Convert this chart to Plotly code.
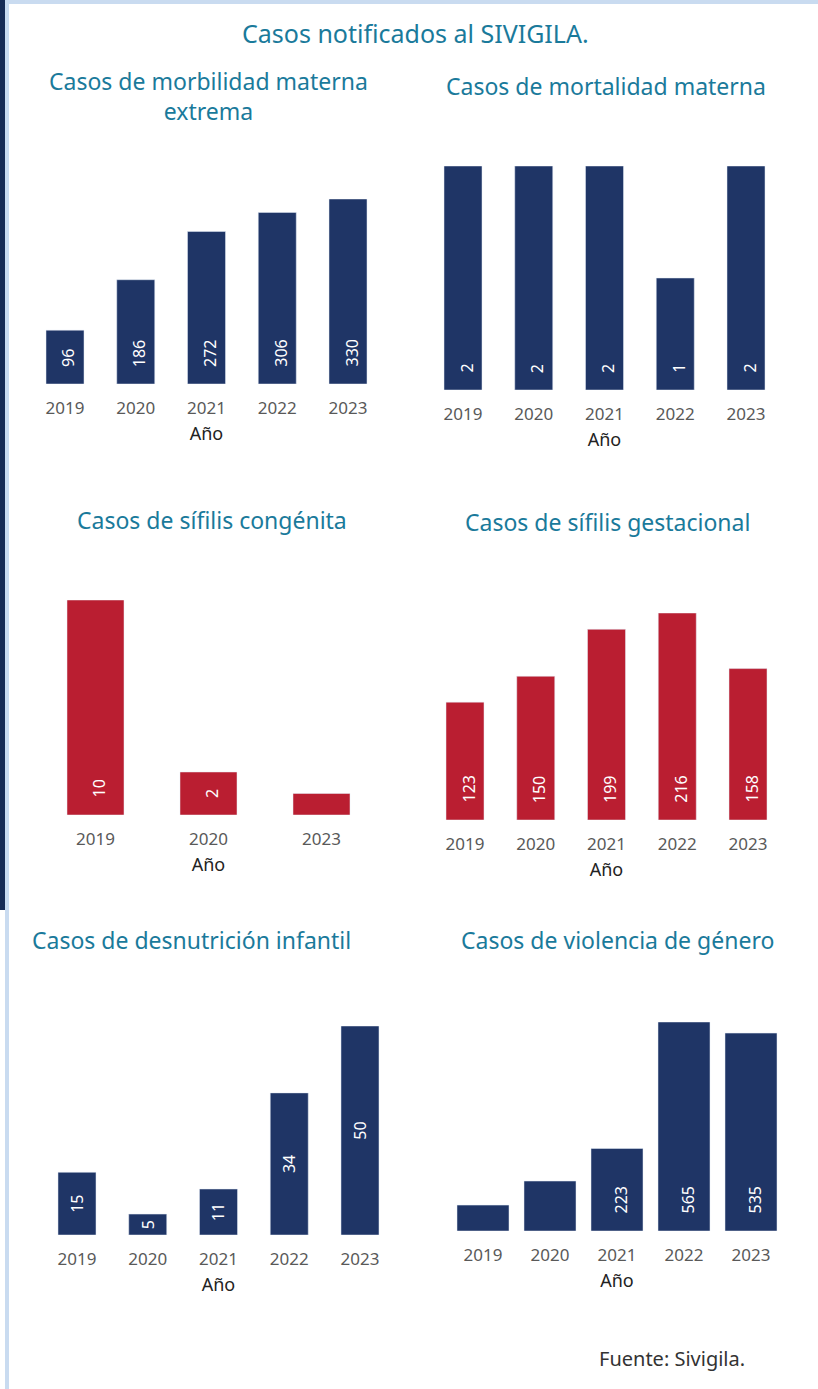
import plotly.graph_objects as go

W, H = 818, 1389

# ---- data ----
years_morb = ["2019", "2020", "2021", "2022", "2023"]
morbilidad = [96, 186, 272, 306, 330]
morb_labels = ["96", "186", "272", "306", "330"]

years_mort = ["2019", "2020", "2021", "2022", "2023"]
mortalidad = [2, 2, 2, 1, 2]
mort_labels = ["2", "2", "2", "1", "2"]

years_cong = ["2019", "2020", "2023"]
sifilis_congenita = [10, 2, 1]
cong_labels = ["10", "2", ""]

years_gest = ["2019", "2020", "2021", "2022", "2023"]
sifilis_gestacional = [123, 150, 199, 216, 158]
gest_labels = ["123", "150", "199", "216", "158"]

years_desn = ["2019", "2020", "2021", "2022", "2023"]
desnutricion = [15, 5, 11, 34, 50]
desn_labels = ["15", "5", "11", "34", "50"]

years_viol = ["2019", "2020", "2021", "2022", "2023"]
violencia = [70, 135, 223, 565, 535]
viol_labels = ["", "", "223", "565", "535"]

NAVY = "#1F3566"
RED = "#BA1E31"
TEAL = "#1A7A9B"
FONT = "Noto Sans"

# panel geometry in pixels: (first center, spacing, baseline y, top y of max bar, bar width px)
panels = [
    dict(x=years_morb, y=morbilidad, t=morb_labels, c=NAVY, c0=65, sp=70.75, base=384, top=199, bw=38,
         title="Casos de morbilidad materna<br>extrema", tx=208, ty=96, lab="base"),
    dict(x=years_mort, y=mortalidad, t=mort_labels, c=NAVY, c0=463, sp=70.75, base=390, top=166, bw=38,
         title="Casos de mortalidad materna", tx=606, ty=86, lab="base"),
    dict(x=years_cong, y=sifilis_congenita, t=cong_labels, c=RED, c0=95.5, sp=113, base=815, top=600, bw=57,
         title="Casos de sífilis congénita", tx=212, ty=520, lab="base"),
    dict(x=years_gest, y=sifilis_gestacional, t=gest_labels, c=RED, c0=465, sp=70.75, base=820, top=613, bw=38,
         title="Casos de sífilis gestacional", tx=607, ty=522, lab="base"),
    dict(x=years_desn, y=desnutricion, t=desn_labels, c=NAVY, c0=77, sp=70.75, base=1235, top=1026, bw=38,
         title="Casos de desnutrición infantil", tx=191, ty=940, lab="middle"),
    dict(x=years_viol, y=violencia, t=viol_labels, c=NAVY, c0=483, sp=67, base=1231, top=1022, bw=52,
         title="Casos de violencia de género", tx=617, ty=940, lab="base"),
]

fig = go.Figure()
annotations = []
layout_axes = {}
for i, p in enumerate(panels, start=1):
    n = len(p["x"])
    x0 = p["c0"] - p["sp"] / 2
    x1 = p["c0"] + p["sp"] * (n - 0.5)
    xs = "" if i == 1 else str(i)
    bar_kw = {}
    if p["lab"] == "middle":
        bar_kw = dict(text=p["t"], textposition="inside", insidetextanchor="middle",
                      textangle=-90, constraintext="none",
                      textfont=dict(family=FONT, size=16, color="white"))
    fig.add_trace(go.Bar(
        x=p["x"], y=p["y"], marker_color=p["c"],
        width=p["bw"] / p["sp"],
        xaxis="x" + xs, yaxis="y" + xs, showlegend=False, hoverinfo="x+y",
        **bar_kw,
    ))
    if p["lab"] == "base":
        # value labels, rotated, sitting a little above the base of each bar
        # (category axes take the category index as annotation position)
        for j, lab in enumerate(p["t"]):
            if lab:
                annotations.append(dict(
                    text=lab, x=j, y=0, xref="x" + xs, yref="y" + xs + " domain",
                    xanchor="center", yanchor="bottom", yshift=15, xshift=3,
                    textangle=-90, showarrow=False,
                    font=dict(family=FONT, size=16, color="white"),
                ))
    layout_axes["xaxis" + xs] = dict(
        domain=[x0 / W, x1 / W], anchor="y" + xs, type="category",
        range=[-0.5, n - 0.5], showgrid=False, zeroline=False, showline=False,
        ticks="", tickfont=dict(family=FONT, size=17, color="#595959"),
        ticklabelstandoff=12,
        title=dict(text="Año", font=dict(family=FONT, size=18, color="#222222"), standoff=9),
        fixedrange=True,
    )
    layout_axes["yaxis" + xs] = dict(
        domain=[1 - p["base"] / H, 1 - p["top"] / H], anchor="x" + xs,
        range=[0, max(p["y"])], visible=False, fixedrange=True,
    )
    annotations.append(dict(
        text=p["title"], x=p["tx"] / W, y=1 - p["ty"] / H, xref="paper", yref="paper",
        xanchor="center", yanchor="middle", showarrow=False,
        font=dict(family=FONT, size=23, color=TEAL),
    ))

annotations.append(dict(
    text="Casos notificados al SIVIGILA.", x=415 / W, y=1 - 33 / H, xref="paper", yref="paper",
    xanchor="center", yanchor="middle", showarrow=False,
    font=dict(family=FONT, size=25, color=TEAL),
))
annotations.append(dict(
    text="Fuente: Sivigila.", x=597 / W, y=1 - 1358 / H, xref="paper", yref="paper",
    xanchor="left", yanchor="middle", showarrow=False,
    font=dict(family=FONT, size=20, color="#333333"),
))

shapes = [
    dict(type="rect", xref="paper", yref="paper", x0=5 / W, x1=1, y0=1 - 4 / H, y1=1,
         fillcolor="#C9DBF0", line_width=0, layer="below"),
    dict(type="rect", xref="paper", yref="paper", x0=5 / W, x1=9 / W, y0=0, y1=1,
         fillcolor="#C9DBF0", line_width=0, layer="below"),
    dict(type="rect", xref="paper", yref="paper", x0=0, x1=5 / W, y0=1 - 910 / H, y1=1,
         fillcolor="#172C55", line_width=0, layer="below"),
]

fig.update_layout(
    width=W, height=H, margin=dict(l=0, r=0, t=0, b=0),
    paper_bgcolor="white", plot_bgcolor="white",
    annotations=annotations, shapes=shapes, **layout_axes,
)
fig.write_html("out.html", config={"displayModeBar": False})
